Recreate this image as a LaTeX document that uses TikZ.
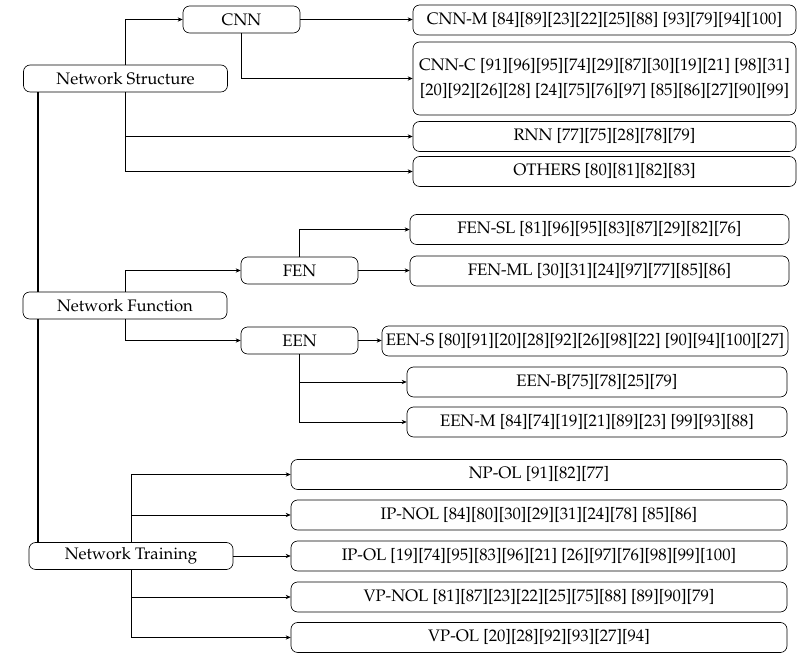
\documentclass[tikz,border=0pt]{standalone}
\usepackage[T1]{fontenc}
\usepackage{mathpazo}
\usetikzlibrary{arrows.meta}

\tikzset{
  box/.style={draw, rounded corners=4pt, inner sep=0pt, minimum height=18pt, font=\normalsize},
  main/.style={box, minimum width=122.4pt, minimum height=16.2pt},
  mid/.style={box, minimum width=70.2pt, minimum height=16.2pt},
  link/.style={-{Stealth[length=3pt,width=2.6pt]}},
  spineline/.style={line width=1.2pt}
}

\begin{document}
\begin{tikzpicture}[x=0.6pt, y=-0.6pt]
  \useasboundingbox (0,0) rectangle (798,660);

  % categorias principais
  \node[main] (ns) at (125.5,78.5) {Network Structure};
  \node[main] (nf) at (125,305.5)  {Network Function};
  \node[main] (nt) at (131,556)    {Network Training};
  \coordinate (spine) at (38,0);

  % nivel intermediario
  \node[mid] (cnn) at (241.5,19.5) {CNN};
  \node[mid] (fen) at (299.5,270.5) {FEN};
  \node[mid] (een) at (299.5,340.5) {EEN};

  % folhas de Network Structure
  \node[box, minimum width=229.8pt] (cnnm) at (604.5,20) {CNN-M [84][89][23][22][25][88] [93][79][94][100]};
  \node[box, minimum width=229.8pt, minimum height=43.8pt, align=center] (cnnc) at (604.5,78.5)
    {CNN-C [91][96][95][74][29][87][30][19][21] [98][31]\\[3.4pt]
     [20][92][26][28] [24][75][76][97] [85][86][27][90][99]};
  \node[box, minimum width=229.8pt] (rnn) at (604.5,136.5) {RNN [77][75][28][78][79]};
  \node[box, minimum width=229.8pt] (oth) at (604.5,171.5) {OTHERS [80][81][82][83]};

  % folhas de Network Function
  \node[box, minimum width=227.4pt] (fensl) at (599.5,229.5) {FEN-SL [81][96][95][83][87][29][82][76]};
  \node[box, minimum width=227.4pt] (fenml) at (599.5,271)   {FEN-ML [30][31][24][97][77][85][86]};
  \node[box, minimum width=243.6pt] (eens)  at (585,341)     {EEN-S [80][91][20][28][92][26][98][22] [90][94][100][27]};
  \node[box, minimum width=228pt]   (eenb)  at (597,382)     {EEN-B[75][78][25][79]};
  \node[box, minimum width=228pt]   (eenm)  at (597,422)     {EEN-M [84][74][19][21][89][23] [99][93][88]};

  % folhas de Network Training
  \foreach \name/\y/\txt in {
      npol/474.5/{NP-OL [91][82][77]},
      ipnol/515/{IP-NOL [84][80][30][29][31][24][78] [85][86]},
      ipol/556/{IP-OL [19][74][95][83][96][21] [26][97][76][98][99][100]},
      vpnol/597/{VP-NOL [81][87][23][22][25][75][88] [89][90][79]},
      vpol/637.5/{VP-OL [20][28][92][93][27][94]}} {
    \node[box, minimum width=297.6pt] (\name) at (539,\y) {\txt};
  }

  % eixo vertical
  \draw[spineline] (spine |- ns.south) -- (spine |- nf.north);
  \draw[spineline] (spine |- nf.south) -- (spine |- nt.north);

  \draw[link] (ns.north) |- (cnn.west);
  \draw[link] (cnn.east) -- (cnn.east -| cnnm.west);
  \draw[link] (cnn.south) |- (cnnc.west);
  \draw[link] (ns.south) |- (rnn.west);
  \draw[link] (ns.south) |- (oth.west);

  \draw[link] (nf.north) |- (fen.west);
  \draw[link] (nf.south) |- (een.west);
  \draw[link] (fen.north) |- (fensl.west);
  \draw[link] (fen.east) -- (fen.east -| fenml.west);
  \draw[link] (een.east) -- (een.east -| eens.west);
  \draw[link] (een.south) |- (eenb.west);
  \draw[link] (een.south) |- (eenm.west);

  \draw[link] (nt.north) |- (npol.west);
  \draw[link] (nt.north) |- (ipnol.west);
  \draw[link] (nt.east) -- (nt.east -| ipol.west);
  \draw[link] (nt.south) |- (vpnol.west);
  \draw[link] (nt.south) |- (vpol.west);

\end{tikzpicture}
\end{document}
